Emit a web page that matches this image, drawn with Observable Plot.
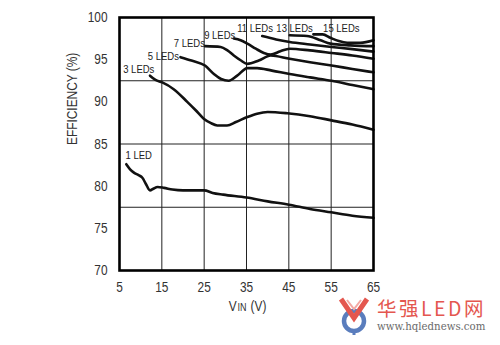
<!DOCTYPE html>
<html>
<head>
<meta charset="utf-8">
<script src="https://cdn.jsdelivr.net/npm/d3@7"></script>
<script src="https://cdn.jsdelivr.net/npm/@observablehq/plot@0.6"></script>
<style>
  html, body { margin: 0; padding: 0; background: #fff; }
  #wrap { position: relative; width: 500px; height: 345px; overflow: hidden; background: #fff; }
  #chart { position: absolute; left: 0; top: 0; }
  #logo { position: absolute; left: 338px; top: 296px; width: 162px; height: 42px; }
  #logo .cn { position: absolute; left: 39px; top: 1px; font-family: "Noto Sans CJK SC", sans-serif; font-size: 19.5px; line-height: 22px; color: #e4574f; letter-spacing: 2.5px; white-space: nowrap; }
  #logo .url { position: absolute; left: 39px; top: 25px; font-family: "DejaVu Serif", serif; font-size: 10.2px; line-height: 12px; color: #6a6a6a; white-space: nowrap; }
</style>
</head>
<body>
<div id="wrap">
  <div id="chart"></div>
  <div id="logo">
    <svg width="34" height="40" style="position:absolute;left:0;top:0">
      <circle cx="16" cy="25" r="10" fill="none" stroke="#5a7dbd" stroke-width="4.5"/>
      <line x1="16" y1="34" x2="16" y2="39" stroke="#5a7dbd" stroke-width="3"/>
      <path d="M3,3 L16,22 L29,3" fill="none" stroke="#e4574f" stroke-width="5" stroke-linejoin="miter"/>
      <path d="M9,4 L16,13 L23,4" fill="none" stroke="#f3a9a4" stroke-width="2"/>
    </svg>
    <div class="cn">华强LED网</div>
    <div class="url">www.hqlednews.com</div>
  </div>
</div>
<script>
// ---- tick values ----
const xTicks = [5, 15, 25, 35, 45, 55, 65];
const yTicks = [70, 75, 80, 85, 90, 95, 100];
const xGrid = [15, 25, 35, 45, 55];
const yGrid = [77.5, 85, 92.5];

// ---- efficiency curves: [VIN, efficiency %] ----
const led1 = [[6.6,82.6],[7.5,82.0],[8.4,81.6],[9.5,81.3],[10.4,81.0],[11.3,80.2],[12.2,79.5],[13.0,79.7],[14.0,79.9],[15.5,79.8],[17.5,79.6],[20,79.5],[25,79.5],[27,79.2],[29.5,79.0],[35,78.65],[40,78.2],[45,77.8],[50,77.3],[55,76.9],[60,76.5],[65,76.25]];
const led3 = [[12.2,93.1],[13.5,92.6],[15.1,92.3],[17.8,91.5],[21,90.0],[23,89.0],[24.9,88.0],[26.5,87.5],[28.1,87.2],[30.4,87.2],[32.5,87.6],[35.2,88.2],[37.5,88.6],[40,88.8],[44.6,88.65],[50,88.3],[55.1,87.8],[60,87.3],[65,86.7]];
const led5 = [[19.4,95.3],[22,94.9],[25.2,94.3],[27.3,93.3],[29,92.7],[30.8,92.5],[32.8,93.1],[35.2,94.0],[37.5,94.0],[41,93.7],[45.2,93.3],[50,92.9],[55.1,92.5],[60,92.0],[65,91.5]];
const led7 = [[25.2,96.6],[28.9,96.5],[30.5,96.1],[32,95.5],[33.7,94.9],[35.2,94.5],[37.9,94.9],[40.7,95.5],[45.2,95.1],[50,94.7],[55.1,94.3],[60,93.9],[65,93.5]];
const led9 = [[32,97.5],[33.6,97.3],[35.2,96.9],[37.2,96.3],[39.1,95.8],[40.7,95.6],[43,96.0],[45.2,96.3],[50,96.1],[55.1,95.8],[60,95.5],[65,95.1]];
const led11 = [[38.7,97.8],[42,97.4],[45.2,97.1],[50,96.8],[55.1,96.5],[60,96.25],[65,95.95]];
const led13 = [[45.2,97.9],[49.3,97.8],[52.5,97.3],[54.8,96.9],[59.6,96.7],[65,96.6]];
const led15 = [[50.8,98.0],[53.0,98.0],[54.8,97.6],[56.8,97.2],[58.8,97.0],[61.9,97.0],[65,97.3]];

// ---- curve labels (anchored at left end of text, baseline) ----
const labelText = ["1 LED", "3 LEDs", "5 LEDs", "7 LEDs", "9 LEDs", "11 LEDs", "13 LEDs", "15 LEDs"];
const labelVin  = [6.42, 5.87, 11.69, 17.83, 25.0, 32.8, 42.05, 53.1];
const labelEff  = [83.2, 93.45, 94.95, 96.5, 97.45, 98.3, 98.3, 98.3];

const curves = [led1, led3, led5, led7, led9, led11, led13, led15];
const labels = labelText.map((t, i) => ({t, x: labelVin[i], y: labelEff[i]}));

const font = '"Liberation Sans", Arial, sans-serif';

const lineMarks = curves.map(c => Plot.line(c, {x: d => d[0], y: d => d[1], stroke: "#111", strokeWidth: 2.6, curve: "monotone-x", strokeLinejoin: "round"}));

const chart = Plot.plot({
  width: 500,
  height: 345,
  marginLeft: 119,
  marginRight: 127,
  marginTop: 17,
  marginBottom: 75,
  style: {fontFamily: font, fontSize: "14px", color: "#333", background: "transparent", overflow: "visible"},
  x: {domain: [5, 65]},
  y: {domain: [70, 100]},
  marks: [
    Plot.ruleX(xGrid, {stroke: "#222", strokeWidth: 1}),
    Plot.ruleY(yGrid, {stroke: "#222", strokeWidth: 1}),
    ...lineMarks,
    Plot.frame({stroke: "#000", strokeWidth: 2.6}),
    Plot.axisX({ticks: xTicks, tickSize: 0, tickPadding: 11, label: null, fontSize: 14.5}),
    Plot.axisY({ticks: yTicks, tickSize: 0, tickPadding: 12, label: null, fontSize: 14.5}),
    Plot.text(labels, {x: "x", y: "y", text: "t", textAnchor: "start", lineAnchor: "bottom", fontSize: 11.6, fill: "#222"}),
    Plot.text(["EFFICIENCY (%)"], {frameAnchor: "left", dx: -47, dy: 1, rotate: -90, fontSize: 14.5, fill: "#333"}),
    Plot.text(["V"], {frameAnchor: "bottom", textAnchor: "start", lineAnchor: "bottom", dx: -17.7, dy: 40, fontSize: 14.5, fill: "#333"}),
    Plot.text(["IN"], {frameAnchor: "bottom", textAnchor: "start", lineAnchor: "bottom", dx: -9, dy: 40, fontSize: 11, fill: "#333"}),
    Plot.text(["(V)"], {frameAnchor: "bottom", textAnchor: "start", lineAnchor: "bottom", dx: 4, dy: 40, fontSize: 14.5, fill: "#333"})
  ]
});
document.getElementById("chart").appendChild(chart);

// emulate a narrow typeface: compress each text horizontally to 82% about its anchor
const SQ = 0.82;
const svgns = "http://www.w3.org/2000/svg";
chart.querySelectorAll("text").forEach(el => {
  const tr = el.transform && el.transform.baseVal.consolidate();
  const m = tr ? tr.matrix : null;
  const rotated = m && (Math.abs(m.b) > 1e-6 || Math.abs(m.c) > 1e-6);
  if (rotated) {
    const w = el.getComputedTextLength();
    if (w > 0) {
      el.setAttribute("textLength", (w * SQ).toFixed(2));
      el.setAttribute("lengthAdjust", "spacingAndGlyphs");
    }
    return;
  }
  const bb = el.getBBox();
  const anchor = getComputedStyle(el).textAnchor;
  const lx = anchor === "middle" ? bb.x + bb.width / 2 : anchor === "end" ? bb.x + bb.width : bb.x;
  const px = m ? m.a * lx + m.e : lx;
  const g = document.createElementNS(svgns, "g");
  g.setAttribute("transform", `translate(${px},0) scale(${SQ},1) translate(${-px},0)`);
  el.parentNode.insertBefore(g, el);
  g.appendChild(el);
});
</script>
</body>
</html>
